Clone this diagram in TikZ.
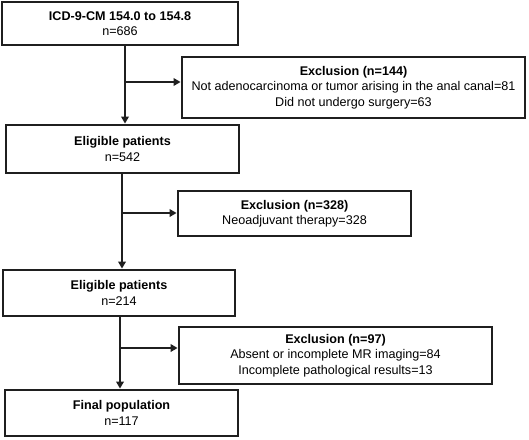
\documentclass[tikz,border=0pt]{standalone}
\usepackage{fontspec}
\setmainfont{Liberation Sans}
\usetikzlibrary{arrows.meta}
\begin{document}
\begin{tikzpicture}[x=1pt,y=1pt,
  box/.style={draw=black!88,line width=2.8pt,inner sep=0pt,align=center,font=\fontsize{12.6}{15.5}\selectfont},
  arr/.style={draw=black!88,line width=2.6pt,-{Triangle[length=7pt,width=7.5pt]}}]
\useasboundingbox (0,0) rectangle (529,-439);
\node[box,minimum width=236pt,minimum height=43pt] (b1) at (120,-23.5) {\textbf{ICD-9-CM 154.0 to 154.8}\\n=686};
\node[box,minimum width=233pt,minimum height=48pt] (b2) at (122.5,-149) {\textbf{Eligible patients}\\n=542};
\node[box,minimum width=232pt,minimum height=46pt] (b3) at (119,-293) {\textbf{Eligible patients}\\n=214};
\node[box,minimum width=233pt,minimum height=46pt] (b4) at (121.5,-413) {\textbf{Final population}\\n=117};
\node[box,minimum width=343pt,minimum height=61pt] (e1) at (353.5,-87.5) {\textbf{Exclusion (n=144)}\\Not adenocarcinoma or tumor arising in the anal canal=81\\Did not undergo surgery=63};
\node[box,minimum width=233pt,minimum height=45pt] (e2) at (294.5,-213.5) {\textbf{Exclusion (n=328)}\\Neoadjuvant therapy=328};
\node[box,minimum width=313pt,minimum height=57pt] (e3) at (335.5,-355.5) {\textbf{Exclusion (n=97)}\\Absent or incomplete MR imaging=84\\Incomplete pathological results=13};
\coordinate (j1) at (125,-82);
\coordinate (j2) at (122,-213);
\coordinate (j3) at (120,-348);
\draw[arr] (b1.south -| j1) -- (b2.north -| j1);
\draw[arr] (j1) -- (e1.west |- j1);
\draw[arr] (b2.south -| j2) -- (b3.north -| j2);
\draw[arr] (j2) -- (e2.west |- j2);
\draw[arr] (b3.south -| j3) -- (b4.north -| j3);
\draw[arr] (j3) -- (e3.west |- j3);
\end{tikzpicture}
\end{document}
